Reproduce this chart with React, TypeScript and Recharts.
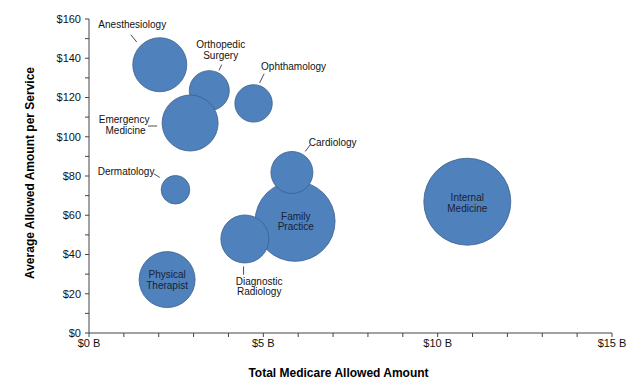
import React from 'react';
import { ScatterChart, Scatter, XAxis, YAxis, ZAxis, Label } from 'recharts';

// Data (drawing order: later items are painted on top)
const specialties = [
  'Anesthesiology',
  'Orthopedic Surgery',
  'Ophthamology',
  'Emergency Medicine',
  'Family Practice',
  'Cardiology',
  'Dermatology',
  'Diagnostic Radiology',
  'Physical Therapist',
  'Internal Medicine',
];
const totalAllowedB = [2.03, 3.45, 4.72, 2.9, 5.91, 5.82, 2.48, 4.47, 2.24, 10.85];
const avgAllowedPerService = [136.7, 123.5, 117, 107, 56.9, 81.8, 73, 47.9, 27.2, 66.9];
const bubbleSize = [729, 400, 350, 784, 1600, 441, 204, 576, 784, 1892];

const xTicks = [0, 1, 2, 3, 4, 5, 6, 7, 8, 9, 10, 11, 12, 13, 14, 15];
const yTicks = [0, 10, 20, 30, 40, 50, 60, 70, 80, 90, 100, 110, 120, 130, 140, 150, 160];

const data = specialties.map((name, i) => ({
  name,
  x: totalAllowedB[i],
  y: avgAllowedPerService[i],
  z: bubbleSize[i],
}));

// Label layout: text lines [text, dx, dy] relative to bubble centre, optional leader line
type LabelLayout = { lines: [string, number, number][]; leader?: [number, number, number, number]; inside?: boolean };
const labelLayout: Record<string, LabelLayout> = {
  'Anesthesiology': { lines: [['Anesthesiology', -27.5, -40]], leader: [-29, -30, -23, -22.7] },
  'Orthopedic Surgery': { lines: [['Orthopedic', 11.4, -46], ['Surgery', 11.4, -35]], leader: [12.4, -26, 9.7, -20.3] },
  'Ophthamology': { lines: [['Ophthamology', 40, -36.7]], leader: [10.6, -29.7, 6, -20.4] },
  'Emergency Medicine': { lines: [['Emergency', -66, -4], ['Medicine', -64.6, 7]], leader: [-42, 3, -33, 3] },
  'Cardiology': { lines: [['Cardiology', 40.8, -30]], leader: [18.3, -27.7, 13.3, -21] },
  'Dermatology': { lines: [['Dermatology', -49.4, -18.3]], leader: [-21.7, -16, -15.7, -12.3] },
  'Diagnostic Radiology': { lines: [['Diagnostic', 14.3, 42.4], ['Radiology', 14.3, 53]], leader: [-1.3, 27.4, -1.3, 35.7] },
  'Family Practice': { lines: [['Family', 0.7, -5], ['Practice', 0.7, 5.6]], inside: true },
  'Physical Therapist': { lines: [['Physical', 0, -5], ['Therapist', 0, 5.7]], inside: true },
  'Internal Medicine': { lines: [['Internal', 0, -4.3], ['Medicine', 0, 6.3]], inside: true },
};

const FILL = '#4F81BD';
const STROKE = '#3B5F8C';

const BubbleShape = (props: any) => {
  const { cx, cy, width, size } = props;
  const r = width ? width / 2 : Math.sqrt(Math.max(size || 0, 0) / Math.PI);
  return <circle cx={cx} cy={cy} r={r} fill={FILL} stroke={STROKE} strokeWidth={0.8} />;
};

const LabelShape = (props: any) => {
  const { cx, cy, payload } = props;
  const layout = labelLayout[payload?.name];
  if (!layout) return <g />;
  return (
    <g>
      {layout.leader && (
        <line
          x1={cx + layout.leader[0]}
          y1={cy + layout.leader[1]}
          x2={cx + layout.leader[2]}
          y2={cy + layout.leader[3]}
          stroke="#222"
          strokeWidth={0.8}
        />
      )}
      {layout.lines.map(([t, dx, dy], i) => (
        <text
          key={i}
          x={cx + dx}
          y={cy + dy}
          dy="0.35em"
          textAnchor="middle"
          fontSize={10}
          fill={layout.inside ? '#1a2233' : '#111'}
        >
          {t}
        </text>
      ))}
    </g>
  );
};

const YTitle = (props: any) => {
  const vb = props.viewBox || {};
  const cx = 29.5;
  const cy = (vb.y ?? 19) + (vb.height ?? 314) / 2 - 3;
  return (
    <text
      x={cx}
      y={cy}
      transform={`rotate(-90 ${cx} ${cy})`}
      textAnchor="middle"
      dominantBaseline="central"
      fontSize={12}
      fontWeight="bold"
      fill="#000"
    >
      Average Allowed Amount per Service
    </text>
  );
};

const XTitle = (props: any) => {
  const vb = props.viewBox || {};
  const cx = (vb.x ?? 89) + (vb.width ?? 523) / 2 - 12;
  return (
    <text x={cx} y={373} textAnchor="middle" dominantBaseline="central" fontSize={12} fontWeight="bold" fill="#000">
      Total Medicare Allowed Amount
    </text>
  );
};

export default function App() {
  return (
    <div style={{ position: 'absolute', left: 0, top: 0, width: 640, height: 386, background: '#fff', fontFamily: '"Liberation Sans", Arial, sans-serif' }}>
      <ScatterChart width={640} height={386} margin={{ top: 19, right: 28, bottom: 0, left: 0 }}>
        <XAxis
          type="number"
          dataKey="x"
          domain={[0, 15]}
          ticks={xTicks}
          interval={0}
          tickFormatter={(v: number) => (v % 5 === 0 ? `$${v} B` : '')}
          height={53}
          tickSize={4}
          tickMargin={2}
          stroke="#444"
          tick={{ fill: '#111', fontSize: 11 }}
          allowDataOverflow
        >
          <Label content={<XTitle />} />
        </XAxis>
        <YAxis
          type="number"
          dataKey="y"
          domain={[0, 160]}
          ticks={yTicks}
          interval={0}
          tickFormatter={(v: number) => (v % 20 === 0 ? `$${v}` : '')}
          width={89}
          tickSize={4}
          tickMargin={4}
          stroke="#444"
          tick={{ fill: '#111', fontSize: 11 }}
          allowDataOverflow
        >
          <Label content={<YTitle />} />
        </YAxis>
        <ZAxis type="number" dataKey="z" domain={[0, 1892]} range={[0, Math.PI * 43.5 * 43.5]} />
        <Scatter data={data} shape={<BubbleShape />} isAnimationActive={false} />
        <Scatter data={data} shape={<LabelShape />} isAnimationActive={false} />
      </ScatterChart>
    </div>
  );
}
